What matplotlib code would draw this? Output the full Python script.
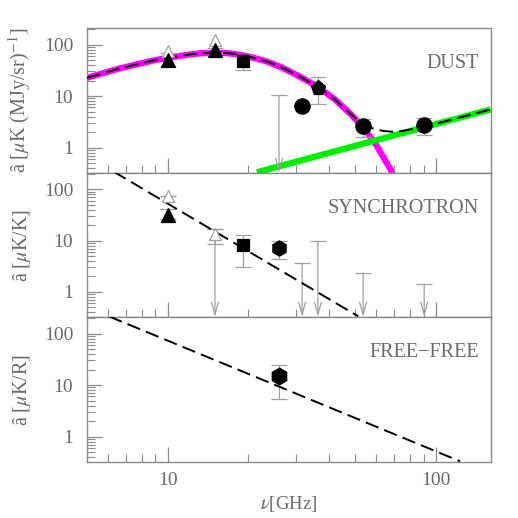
import numpy as np
import matplotlib
matplotlib.use('Agg')
import matplotlib.pyplot as plt
from matplotlib.ticker import LogLocator, NullFormatter, FixedLocator, FixedFormatter

plt.rcParams['font.family'] = ['Liberation Serif', 'DejaVu Serif']
plt.rcParams['mathtext.fontset'] = 'stix'

# ---- DUST panel ----
dust_fit_nu = [5, 6.62, 8.82, 9.97, 11.75, 13.3, 15.0, 16.8, 18.6, 20.2, 23.4, 26.9, 31, 36.4, 42, 47.8, 53.5, 60, 69.2]
dust_fit_amp = [22.6, 34.4, 49, 55, 63, 68, 70, 68, 63, 58, 47, 35, 24, 14.9, 8.6, 4.6, 2.5, 1.1, 0.31]
dust_total_nu = [5, 6.62, 8.82, 9.97, 11.75, 13.3, 15.0, 16.8, 18.6, 20.2, 23.4, 26.9, 31, 36.4, 42, 47.8, 53.5, 56.6, 63.5, 71.3, 84.7, 100, 160]
dust_total_amp = [22.6, 34.4, 49, 55, 63, 68, 70, 68, 63, 58, 47, 35, 24, 14.9, 8.6, 4.6, 2.7, 2.45, 2.1, 2.0, 2.37, 2.9, 5.5]
green_nu = [21.5, 160]
green_amp = [0.33, 5.5]

dust_tri_nu = [10, 15]
dust_tri_amp = [51, 77]
dust_tri_lo = [38, 70]
dust_tri_hi = [68, 84]
dust_open_nu = [10, 15]
dust_open_amp = [74, 125]
dust_sq_nu = [19]
dust_sq_amp = [47.5]
dust_sq_lo = [31.4]
dust_sq_hi = [64]
dust_circ_nu = [31.7, 53.5, 90.4]
dust_circ_amp = [6.4, 2.63, 2.7]
dust_circ_lo = [6.1, 1.61, 1.76]
dust_circ_hi = [6.7, 3.64, 3.7]
dust_pent_nu = [36.3]
dust_pent_amp = [14.5]
dust_pent_lo = [7.1]
dust_pent_hi = [23.3]
dust_lim_nu = [26]
dust_lim_amp = [10.3]

# ---- SYNCHROTRON panel ----
sync_line_nu = [6.3, 51.3]
sync_line_amp = [222, 0.33]
sync_tri_nu = [10]
sync_tri_amp = [31]
sync_tri_lo = [27]
sync_tri_hi = [42]
sync_open_nu = [10, 15]
sync_open_amp = [76, 13.5]
sync_open_lo = [76, 8.6]
sync_open_hi = [76, 17]
sync_sq_nu = [19]
sync_sq_amp = [8.2]
sync_sq_lo = [3.1]
sync_sq_hi = [13.1]
sync_hex_nu = [26]
sync_hex_amp = [7.1]
sync_hex_lo = [4.4]
sync_hex_hi = [9.7]
sync_lim_nu = [15, 31.7, 36.3, 53.5, 90.4]
sync_lim_amp = [17, 3.6, 9.7, 2.3, 1.4]

# ---- FREE-FREE panel ----
ff_line_nu = [6.05, 123]
ff_line_amp = [215, 0.33]
ff_hex_nu = [26]
ff_hex_amp = [15]
ff_hex_lo = [5.3]
ff_hex_hi = [25]

ylabels = [r'â [$\mu$K (MJy/sr)$^{-1}$]', r'â [$\mu$K/K]', r'â [$\mu$K/R]']
names = ['DUST', 'SYNCHROTRON', 'FREE\u2212FREE']

FRAME = '#8a8a8a'
TXT = '#6a6a6a'
ERR = '#a0a0a0'
YMIN, YMAX = 0.32, 210

fig = plt.figure(figsize=(5.18, 5.18), dpi=100)
axes = []
tops = [28, 173, 317, 462]
for i in range(3):
    b = 1 - tops[i + 1] / 518
    h = (tops[i + 1] - tops[i]) / 518
    axes.append(fig.add_axes([87 / 518, b, 403.7 / 518, h]))


def errs(ax, nu, amp, lo, hi, marker, ms, fc='black', ec='black', z=5):
    amp = np.array(amp)
    yerr = [amp - np.array(lo), np.array(hi) - amp]
    ax.errorbar(nu, amp, yerr=yerr, fmt='none', ecolor=ERR, elinewidth=0.9,
                capsize=6, capthick=0.9, zorder=3)
    ax.plot(nu, amp, linestyle='none', marker=marker, ms=ms, mfc=fc, mec=ec,
            mew=0.9, zorder=z)


def limits(ax, nu, amp):
    for n, a in zip(nu, amp):
        ax.annotate('', xy=(n, YMIN), xytext=(n, a),
                    arrowprops=dict(arrowstyle='->,head_length=0.9,head_width=0.25',
                                    color=ERR, lw=0.9, shrinkA=0, shrinkB=0),
                    zorder=2)
        ax.plot([n], [a], marker='_', ms=12, mew=0.9, color=ERR, zorder=2)


for i, ax in enumerate(axes):
    ax.set_xscale('log')
    ax.set_yscale('log')
    ax.set_xlim(5, 160)
    ax.set_ylim(YMIN, YMAX)
    for s in ax.spines.values():
        s.set_color(FRAME)
        s.set_linewidth(1.0)
    ax.tick_params(which='both', direction='in', colors=FRAME, labelcolor=TXT,
                   top=False, right=False, labelsize=14)
    ax.tick_params(which='major', length=11, width=0.9)
    ax.tick_params(which='minor', length=6, width=0.8)
    ax.tick_params(axis='y', which='major', pad=10)
    ax.tick_params(axis='x', which='major', pad=7)
    ax.yaxis.set_major_locator(FixedLocator([1, 10, 100]))
    ax.yaxis.set_major_formatter(FixedFormatter(['1', '10', '100']))
    ax.yaxis.set_minor_locator(LogLocator(base=10, subs=np.arange(2, 10)))
    ax.yaxis.set_minor_formatter(NullFormatter())
    ax.xaxis.set_major_locator(FixedLocator([10, 100]))
    ax.xaxis.set_minor_locator(LogLocator(base=10, subs=np.arange(2, 10)))
    ax.xaxis.set_minor_formatter(NullFormatter())
    if i < 2:
        ax.set_xticklabels([])
    else:
        ax.xaxis.set_major_formatter(FixedFormatter(['10', '100']))
    ax.set_ylabel(ylabels[i], color=TXT, fontsize=14.5)
    ax.yaxis.set_label_coords(-0.135, 0.5)
    ax.text(0.971, 0.755, names[i], transform=ax.transAxes, ha='right',
            va='center', fontsize=14.5, color=TXT)

dash = (0, (7, 3.2))

# dust panel
ax = axes[0]
ax.plot(dust_fit_nu, dust_fit_amp, color='#ff00ff', lw=4.5, zorder=1,
        solid_capstyle='butt', solid_joinstyle='round')
ax.plot(green_nu, green_amp, color='#00ee00', lw=4.5, zorder=1,
        solid_capstyle='butt')
ax.plot(dust_total_nu, dust_total_amp, color='black', lw=1.4, ls=dash, zorder=4)
limits(ax, dust_lim_nu, dust_lim_amp)
ax.plot(dust_open_nu, dust_open_amp, ls='none', marker='^', ms=8, mfc='white',
        mec=ERR, mew=0.9, zorder=4)
errs(ax, dust_tri_nu, dust_tri_amp, dust_tri_lo, dust_tri_hi, '^', 10)
errs(ax, dust_sq_nu, dust_sq_amp, dust_sq_lo, dust_sq_hi, 's', 8)
errs(ax, dust_circ_nu, dust_circ_amp, dust_circ_lo, dust_circ_hi, 'o', 11)
errs(ax, dust_pent_nu, dust_pent_amp, dust_pent_lo, dust_pent_hi, 'p', 11)

# synchrotron panel
ax = axes[1]
ax.plot(sync_line_nu, sync_line_amp, color='black', lw=1.4, ls=dash, zorder=4)
limits(ax, sync_lim_nu, sync_lim_amp)
errs(ax, sync_open_nu, sync_open_amp, sync_open_lo, sync_open_hi, '^', 8,
     fc='white', ec=ERR, z=4)
errs(ax, sync_tri_nu, sync_tri_amp, sync_tri_lo, sync_tri_hi, '^', 10)
errs(ax, sync_sq_nu, sync_sq_amp, sync_sq_lo, sync_sq_hi, 's', 8)
errs(ax, sync_hex_nu, sync_hex_amp, sync_hex_lo, sync_hex_hi, 'h', 11)

# free-free panel
ax = axes[2]
ax.plot(ff_line_nu, ff_line_amp, color='black', lw=1.4, ls=dash, zorder=4)
errs(ax, ff_hex_nu, ff_hex_amp, ff_hex_lo, ff_hex_hi, 'h', 12)
ax.set_xlabel(r'$\nu$[GHz]', color=TXT, fontsize=13.5, labelpad=4)

fig.savefig('out.png', dpi=100)
